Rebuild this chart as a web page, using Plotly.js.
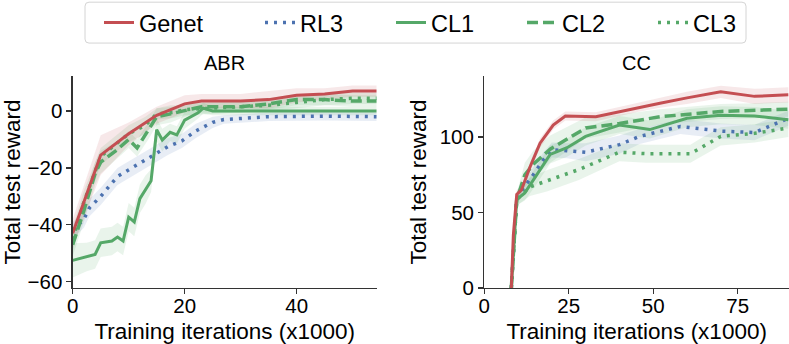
<!DOCTYPE html>
<html>
<head>
<meta charset="utf-8">
<script src="https://cdn.plot.ly/plotly-3.0.1.min.js"></script>
<style>
  html, body { margin: 0; padding: 0; background: #fff; }
  #chart { width: 789px; height: 344px; }
</style>
</head>
<body>
<div id="chart"></div>
<script>
// ABR panel (x in thousands of training iterations)
const abrGenetX = [0, 5, 10, 15, 20, 23, 30, 35, 40, 45, 50, 54.3];
const abrGenetY = [-43, -15.5, -8, -1.5, 2.5, 3.5, 3.5, 4, 5.5, 6, 7, 7];
const abrGenetErr = [5, 7, 4, 3, 3, 2.5, 2.5, 3, 2.5, 2, 2, 2];

const abrRl3X = [0, 2, 3, 5, 8, 11, 14, 17, 19.5, 22, 25, 27, 35, 45, 54.3];
const abrRl3Y = [-42, -38, -34, -30, -23, -19.5, -16, -12.5, -10.5, -7, -4, -3, -2, -1.8, -2];
const abrRl3Err = [3, 3, 3, 3, 3, 3, 3, 3, 2.5, 2.5, 2, 1.5, 1.5, 1.5, 1.5];

const abrCl1X = [0, 2.5, 4, 5, 7, 8, 9, 10, 11, 12, 13, 14, 15, 16, 17.4, 18.6, 20, 22.4, 23.3, 25, 54.3];
const abrCl1Y = [-52.5, -51.3, -50.4, -46.3, -45.7, -44.3, -45.7, -37.3, -39, -30.8, -27.7, -24.5, -6.6, -10.2, -7.5, -8.4, -3.2, -0.6, 1, 0, 0];
const abrCl1Err = [6, 5, 5, 5, 5, 5, 5, 5, 5, 5, 5, 4, 4, 4, 3, 3, 3, 2, 2, 1.5, 1.5];

const abrCl2X = [0, 2, 4, 5, 8, 10, 11.5, 13.5, 15, 17.5, 20, 23, 30, 35, 40, 45, 50, 54.3];
const abrCl2Y = [-47, -35, -22, -18, -13.5, -10, -13, -7, -2, -1, 0, 1.5, 1.5, 2.5, 4, 4, 3.5, 3.5];
const abrCl2Err = [4, 4, 4, 4, 3, 3, 3, 3, 3, 3, 2, 2, 2, 2, 2, 2, 2, 2];

const abrCl3X = [0, 2, 5, 8, 10, 13, 15, 18, 20, 25, 30, 35, 40, 45, 50, 54.3];
const abrCl3Y = [-45, -32, -16, -11, -8, -5, -1, -0.5, 0.5, 1, 1.5, 2, 3, 4, 4.5, 4.5];
const abrCl3Err = [4, 4, 3, 3, 3, 3, 2, 2, 2, 2, 2, 2, 2, 2, 2, 2];

// CC panel
const ccGenetX = [8, 8.6, 9.6, 11, 13.5, 16.5, 20.4, 24, 33, 40, 46, 52, 60, 70, 80, 90];
const ccGenetY = [0, 35, 62, 65, 80, 96, 108, 114, 113.5, 117, 120, 122.5, 126, 130, 127, 128];
const ccGenetErr = [0, 3, 3, 3, 3, 3, 3, 3, 3, 3, 3, 3, 4, 4, 5, 5];

const ccRl3X = [8, 9.6, 11.5, 14.5, 17.5, 20, 24.5, 30, 40, 46, 58, 70, 80, 85, 90];
const ccRl3Y = [0, 58.6, 66, 75, 85, 91.5, 91, 90, 95, 100.5, 107, 104, 103, 108, 112.5];
const ccRl3Err = [0, 3, 4, 5, 5, 5, 5, 6, 6, 5, 5, 5, 5, 5, 5];

const ccCl1X = [8, 9.6, 12, 15.5, 19.5, 24.5, 30, 40, 49, 60, 70, 80, 90];
const ccCl1Y = [0, 58.6, 63, 75, 88.5, 93, 100.5, 108, 105, 112.5, 114.5, 114, 111.5];
const ccCl1Err = [0, 4, 5, 6, 6, 6, 6, 6, 6, 6, 6, 6, 6];

const ccCl2X = [8, 9.6, 12, 14.5, 19.5, 24.5, 30, 40, 52, 70, 80, 90];
const ccCl2Y = [0, 58.6, 75, 82, 92, 98.5, 106, 109, 113.5, 117, 117.5, 118.5];
const ccCl2Err = [0, 4, 8, 9, 9, 8, 7, 6, 5, 5, 5, 5];

const ccCl3X = [8, 9.6, 13.5, 18.5, 28, 40, 48, 61, 64, 70, 80, 90];
const ccCl3Y = [0, 58.6, 67, 71, 78.5, 90, 89, 89, 93, 100.5, 102.5, 106];
const ccCl3Err = [0, 4, 6, 7, 7, 6, 6, 6, 6, 6, 6, 6];

const RED = "#c44e52";
const BLUE = "#4c72b0";
const GREEN = "#55a868";
const FONT = "Liberation Sans, Arial, sans-serif";

function band(x, y, err, color, xa, ya) {
  const upper = y.map((v, i) => v + err[i]);
  const lower = y.map((v, i) => v - err[i]);
  return {
    x: x.concat(x.slice().reverse()),
    y: upper.concat(lower.reverse()),
    xaxis: xa,
    yaxis: ya,
    mode: "lines",
    fill: "toself",
    fillcolor: color,
    line: { width: 0 },
    showlegend: false,
    hoverinfo: "skip",
  };
}

function line(x, y, name, color, dash, xa, ya, legend, show) {
  return {
    x: x,
    y: y,
    name: name,
    xaxis: xa,
    yaxis: ya,
    mode: "lines",
    line: { color: color, width: dash === "solid" ? 3 : 3.5, dash: dash },
    legend: legend,
    showlegend: show,
  };
}

const fillRed = "rgba(196,78,82,0.13)";
const fillBlue = "rgba(76,114,176,0.13)";
const fillGreen = "rgba(85,168,104,0.13)";

const dot = "3px,6px";
const dash = "11px,5px";

const data = [
  // bands
  band(abrRl3X, abrRl3Y, abrRl3Err, fillBlue, "x", "y"),
  band(abrCl1X, abrCl1Y, abrCl1Err, fillGreen, "x", "y"),
  band(abrCl2X, abrCl2Y, abrCl2Err, fillGreen, "x", "y"),
  band(abrCl3X, abrCl3Y, abrCl3Err, fillGreen, "x", "y"),
  band(abrGenetX, abrGenetY, abrGenetErr, fillRed, "x", "y"),
  band(ccRl3X, ccRl3Y, ccRl3Err, fillBlue, "x2", "y2"),
  band(ccCl1X, ccCl1Y, ccCl1Err, fillGreen, "x2", "y2"),
  band(ccCl2X, ccCl2Y, ccCl2Err, fillGreen, "x2", "y2"),
  band(ccCl3X, ccCl3Y, ccCl3Err, fillGreen, "x2", "y2"),
  band(ccGenetX, ccGenetY, ccGenetErr, fillRed, "x2", "y2"),
  // lines, left panel carries the legend
  line(abrRl3X, abrRl3Y, "RL3", BLUE, dot, "x", "y", "legend2", true),
  line(abrCl1X, abrCl1Y, "CL1", GREEN, "solid", "x", "y", "legend2", true),
  line(abrCl2X, abrCl2Y, "CL2", GREEN, dash, "x", "y", "legend2", true),
  line(abrCl3X, abrCl3Y, "CL3", GREEN, dot, "x", "y", "legend2", true),
  line(abrGenetX, abrGenetY, "Genet", RED, "solid", "x", "y", "legend", true),
  line(ccRl3X, ccRl3Y, "RL3", BLUE, dot, "x2", "y2", "legend2", false),
  line(ccCl3X, ccCl3Y, "CL3", GREEN, dot, "x2", "y2", "legend2", false),
  line(ccCl2X, ccCl2Y, "CL2", GREEN, dash, "x2", "y2", "legend2", false),
  line(ccCl1X, ccCl1Y, "CL1", GREEN, "solid", "x2", "y2", "legend2", false),
  line(ccGenetX, ccGenetY, "Genet", RED, "solid", "x2", "y2", "legend", false),
];

const axisStyle = {
  showgrid: false,
  zeroline: false,
  showline: true,
  linecolor: "#333",
  linewidth: 1.25,
  ticks: "outside",
  ticklen: 5,
  tickwidth: 1.25,
  tickcolor: "#333",
  tickfont: { family: FONT, size: 20.5, color: "#000" },
};

const titleFont = { family: FONT, size: 22.5, color: "#000" };

// rounded legend frame, in paper units
const bx0 = 85 / 789, bx1 = 746 / 789;
const by0 = (288.5 - 43) / 212.5, by1 = (288.5 - 2) / 212.5;
const rx = 4 / 789, ry = 4 / 212.5;
const framePath =
  `M${bx0 + rx},${by1} L${bx1 - rx},${by1} Q${bx1},${by1} ${bx1},${by1 - ry} ` +
  `L${bx1},${by0 + ry} Q${bx1},${by0} ${bx1 - rx},${by0} ` +
  `L${bx0 + rx},${by0} Q${bx0},${by0} ${bx0},${by0 + ry} ` +
  `L${bx0},${by1 - ry} Q${bx0},${by1} ${bx0 + rx},${by1} Z`;

const legendBase = {
  orientation: "h",
  yanchor: "middle",
  y: (288.5 - 22.5) / 212.5,
  xanchor: "left",
  bgcolor: "rgba(0,0,0,0)",
  borderwidth: 0,
  font: { family: FONT, size: 23.5, color: "#000" },
};

const layout = {
  width: 789,
  height: 344,
  margin: { l: 0, r: 0, t: 76, b: 55.5, autoexpand: false },
  paper_bgcolor: "#fff",
  plot_bgcolor: "#fff",
  font: { family: FONT },
  xaxis: Object.assign({}, axisStyle, {
    domain: [72.7 / 789, 376.7 / 789],
    range: [0, 54.3],
    tickvals: [0, 20, 40],
    ticklabelstandoff: -6,
    anchor: "y",
    title: { text: "Training iterations (x1000)", font: titleFont, standoff: 14 },
  }),
  yaxis: Object.assign({}, axisStyle, {
    range: [-62.2, 12.3],
    tickvals: [-60, -40, -20, 0],
    anchor: "x",
    title: { text: "Total test reward", font: titleFont, standoff: 6 },
  }),
  xaxis2: Object.assign({}, axisStyle, {
    domain: [484.3 / 789, 1],
    range: [0, 90.2],
    tickvals: [0, 25, 50, 75],
    ticklabelstandoff: -6,
    anchor: "y2",
    title: { text: "Training iterations (x1000)", font: titleFont, standoff: 14 },
  }),
  yaxis2: Object.assign({}, axisStyle, {
    range: [0, 140.5],
    tickvals: [0, 50, 100],
    anchor: "x2",
    title: { text: "Total test reward", font: titleFont, standoff: 6 },
  }),
  legend: Object.assign({}, legendBase, { x: 99 / 789 }),
  legend2: Object.assign({}, legendBase, { x: 260 / 789, entrywidth: 86, entrywidthmode: "pixels" }),
  shapes: [
    {
      type: "path",
      xref: "paper",
      yref: "paper",
      path: framePath,
      line: { color: "#d4d4d4", width: 1 },
      fillcolor: "rgba(0,0,0,0)",
    },
  ],
  annotations: [
    {
      text: "ABR",
      xref: "x domain",
      yref: "y domain",
      x: 0.5,
      y: 1,
      yanchor: "bottom",
      yshift: 0,
      showarrow: false,
      font: { family: FONT, size: 20, color: "#000" },
    },
    {
      text: "CC",
      xref: "x2 domain",
      yref: "y2 domain",
      x: 0.5,
      y: 1,
      yanchor: "bottom",
      yshift: 0,
      showarrow: false,
      font: { family: FONT, size: 20, color: "#000" },
    },
  ],
};

Plotly.newPlot("chart", data, layout, { staticPlot: true });
</script>
</body>
</html>
